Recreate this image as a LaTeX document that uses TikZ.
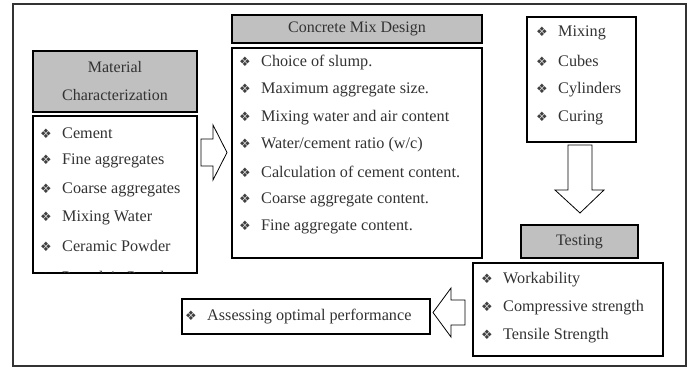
\documentclass[tikz,border=0pt]{standalone}
\usepackage{fontspec}
\setmainfont{Liberation Serif}
\newfontfamily\dingfont{DejaVu Sans}
\usepackage{tikz}
\usetikzlibrary{positioning}
\usepackage{xcolor}

\definecolor{headgray}{RGB}{192,192,192}
\definecolor{txtgray}{RGB}{50,50,50}
\newcommand{\dia}{\makebox[22pt][l]{\dingfont\fontsize{13}{13}\selectfont\textcolor{black!75}{❖}}}

\tikzset{
  box/.style={draw=black, line width=1.6pt, inner sep=0pt},
  headbox/.style={box, fill=headgray, text=txtgray, align=center,
    font=\fontsize{16}{28}\selectfont},
  item/.style={anchor=west, inner sep=0pt, text=txtgray,
    font=\fontsize{16.2}{16}\selectfont},
  blockarrow/.style={draw=black, line width=0.8pt, fill=white, line join=miter},
}

\begin{document}
\begin{tikzpicture}[x=1pt,y=-1pt]
\useasboundingbox (0,0) rectangle (689,369);
\draw[gray!40!black, line width=1.1pt] (13,4) rectangle (686,366);

% material block
\node[headbox, minimum width=164, minimum height=61] (mathead) at (115,81.5) {Material\\Characterization};
\node[box, minimum width=164, minimum height=157] (matlist) at (115,194.5) {};
\foreach \t [count=\i] in {Cement,Fine aggregates,Coarse aggregates,Mixing Water,Ceramic Powder}
  \node[item] (mat\i) at (40,133+28.3*\i-28.3) {\dia\t};
\begin{scope}
  \clip (34,117) rectangle (196,272);
  \node[item] (mat6) at (40,276.5) {\dia Porcelain Powder};
\end{scope}

% mix design block
\node[headbox, minimum width=250, minimum height=28] (mixhead) at (357,29) {Concrete Mix Design};
\node[box, minimum width=250, minimum height=210] (mixlist) at (357,153) {};
\foreach \t [count=\i] in {Choice of slump.,Maximum aggregate size.,Mixing water and air content,
    Water/cement ratio (w/c),Calculation of cement content.,Coarse aggregate content.,Fine aggregate content.}
  \node[item] (mix\i) at (239,63+27.3*\i-27.3) {\dia\t};

% casting and curing
\node[box, minimum width=109, minimum height=125] (prep) at (581.5,79.5) {};
\foreach \t [count=\i] in {Mixing,Cubes,Cylinders,Curing}
  \node[item] (prep\i) at (536,33+28.4*\i-28.4) {\dia\t};

% testing block
\node[headbox, minimum width=117, minimum height=33] (testhead) at (579.5,241.5) {Testing};
\node[box, minimum width=190, minimum height=93] (testlist) at (568,309.5) {};
\foreach \t [count=\i] in {Workability,Compressive strength,Tensile Strength}
  \node[item] (test\i) at (481,280+28*\i-28) {\dia\t};

% outcome
\node[box, minimum width=248, minimum height=35] (assess) at (306,316.5) {};
\node[item] (assess1) at (185,316.5) {\dia Assessing optimal performance};

% block arrows between the stages
\draw[blockarrow] (201,139) -- (213,139) -- (213,125) -- (227,152.5) -- (213,180) -- (213,166) -- (201,166) -- cycle;
\draw[blockarrow] (568,145) -- (592,145) -- (592,190) -- (604,190) -- (580,213) -- (555,190) -- (568,190) -- cycle;
\draw[blockarrow] (465,300) -- (465,325) -- (451,325) -- (451,337) -- (433,312.5) -- (451,288) -- (451,300) -- cycle;
\end{tikzpicture}
\end{document}
